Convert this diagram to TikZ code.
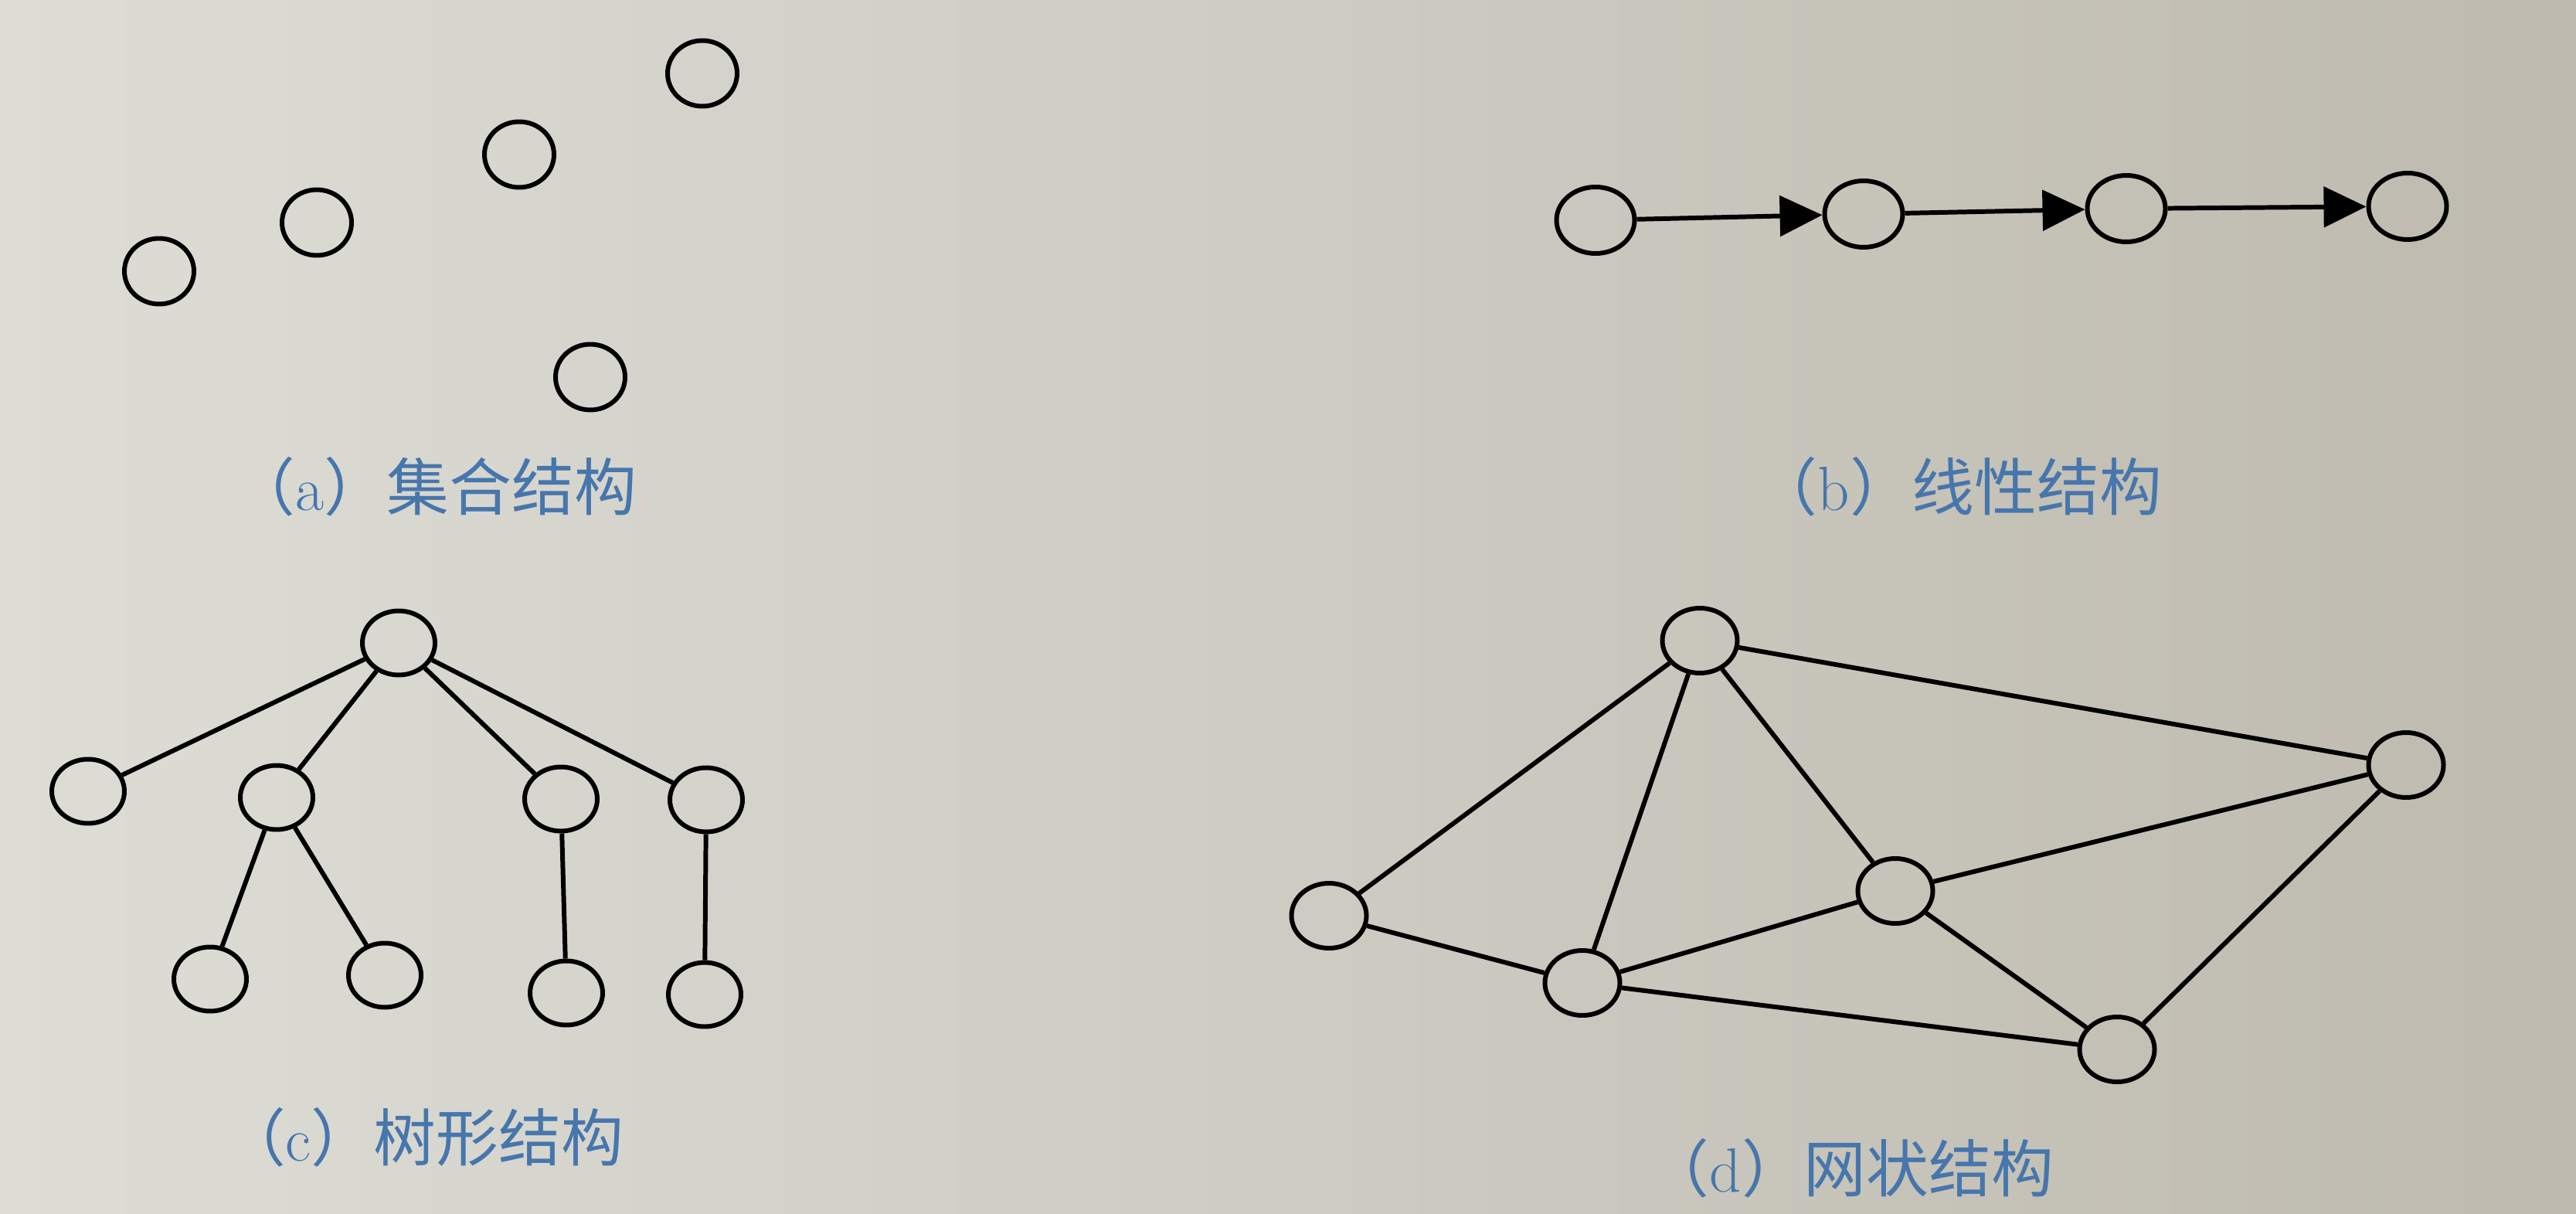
\documentclass[tikz,border=0pt]{standalone}
\usepackage{fontspec}
\newfontfamily\cjk{Noto Sans CJK SC}
\usetikzlibrary{arrows.meta,shapes.geometric}
\definecolor{paper}{RGB}{221,221,214}
\definecolor{paperdark}{RGB}{190,186,175}
\definecolor{capblue}{RGB}{70,118,172}
\tikzset{
  vertex/.style={draw, ellipse, line width=1.7pt, minimum width=0.90cm, minimum height=0.85cm, inner sep=0pt},
  link/.style={line width=1.7pt},
  caption/.style={text=capblue, font=\fontsize{23}{28}\selectfont, inner sep=0pt}
}
\newcommand{\subcap}[2]{{\cjk （}#1{\cjk ）#2}}
\begin{document}
\begin{tikzpicture}
\useasboundingbox (0,0) rectangle (33.34,-15.71);
\shade[left color=paper, right color=paperdark] (0,0) rectangle (33.34,-15.71);
% (a) set
\node[vertex] (a1) at (2.06,-3.51) {};
\node[vertex] (a2) at (4.10,-2.88) {};
\node[vertex] (a3) at (6.72,-2.00) {};
\node[vertex] (a4) at (9.09,-0.95) {};
\node[vertex] (a5) at (7.64,-4.88) {};
\node[caption] (capa) at (5.63,-6.30) {\subcap{a}{集合结构}};
% (b) linear
\node[vertex, minimum width=1.01cm, minimum height=0.86cm] (b1) at (20.65,-2.85) {};
\node[vertex, minimum width=1.01cm, minimum height=0.86cm] (b2) at (24.12,-2.77) {};
\node[vertex, minimum width=1.01cm, minimum height=0.86cm] (b3) at (27.52,-2.70) {};
\node[vertex, minimum width=1.01cm, minimum height=0.86cm] (b4) at (31.16,-2.67) {};
\draw[link, -{Triangle[length=0.55cm,width=0.52cm]}] (b1) -- (b2);
\draw[link, -{Triangle[length=0.55cm,width=0.52cm]}] (b2) -- (b3);
\draw[link, -{Triangle[length=0.55cm,width=0.52cm]}] (b3) -- (b4);
\node[caption] (capb) at (25.35,-6.30) {\subcap{b}{线性结构}};
% (c) tree
\node[vertex, minimum width=0.94cm, minimum height=0.83cm] (c0) at (5.16,-8.32) {};
\node[vertex, minimum width=0.94cm, minimum height=0.83cm] (c1) at (1.14,-10.24) {};
\node[vertex, minimum width=0.94cm, minimum height=0.83cm] (c2) at (3.58,-10.32) {};
\node[vertex, minimum width=0.94cm, minimum height=0.83cm] (c3) at (7.26,-10.34) {};
\node[vertex, minimum width=0.94cm, minimum height=0.83cm] (c4) at (9.14,-10.35) {};
\node[vertex, minimum width=0.94cm, minimum height=0.83cm] (c21) at (2.72,-12.67) {};
\node[vertex, minimum width=0.94cm, minimum height=0.83cm] (c22) at (4.98,-12.62) {};
\node[vertex, minimum width=0.94cm, minimum height=0.83cm] (c31) at (7.33,-12.85) {};
\node[vertex, minimum width=0.94cm, minimum height=0.83cm] (c41) at (9.12,-12.87) {};
\draw[link] (c0) -- (c1);
\draw[link] (c0) -- (c2);
\draw[link] (c0) -- (c3);
\draw[link] (c0) -- (c4);
\draw[link] (c2) -- (c21);
\draw[link] (c2) -- (c22);
\draw[link] (c3) -- (c31);
\draw[link] (c4) -- (c41);
\node[caption] (capc) at (5.48,-14.72) {\subcap{c}{树形结构}};
% (d) mesh
\node[vertex, minimum width=0.97cm, minimum height=0.84cm] (d1) at (22.00,-8.29) {};
\node[vertex, minimum width=0.97cm, minimum height=0.84cm] (d2) at (31.14,-9.90) {};
\node[vertex, minimum width=0.97cm, minimum height=0.84cm] (d3) at (17.20,-11.85) {};
\node[vertex, minimum width=0.97cm, minimum height=0.84cm] (d4) at (24.53,-11.53) {};
\node[vertex, minimum width=0.97cm, minimum height=0.84cm] (d5) at (20.48,-12.72) {};
\node[vertex, minimum width=0.97cm, minimum height=0.84cm] (d6) at (27.40,-13.58) {};
\draw[link] (d1) -- (d3);
\draw[link] (d1) -- (d5);
\draw[link] (d1) -- (d4);
\draw[link] (d1) -- (d2);
\draw[link] (d2) -- (d4);
\draw[link] (d2) -- (d6);
\draw[link] (d3) -- (d5);
\draw[link] (d5) -- (d4);
\draw[link] (d5) -- (d6);
\draw[link] (d4) -- (d6);
\node[caption] (capd) at (23.95,-15.12) {\subcap{d}{网状结构}};
\end{tikzpicture}
\end{document}
